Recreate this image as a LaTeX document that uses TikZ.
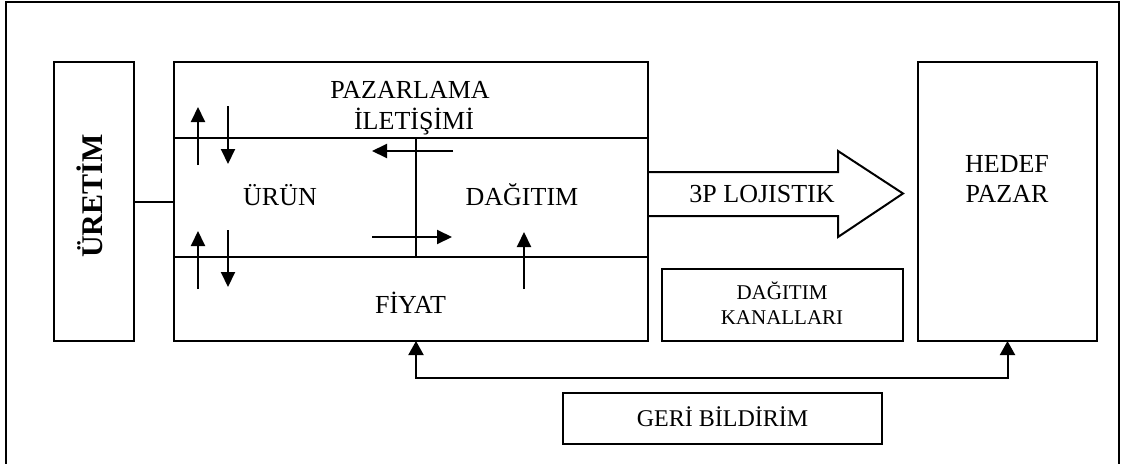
\documentclass[tikz,border=0pt]{standalone}
\usepackage{fontspec}
\setmainfont{Liberation Serif}
\usetikzlibrary{arrows.meta}
\begin{document}
\begin{tikzpicture}[x=1pt,y=-1pt,line width=2pt,
  box/.style={draw,line width=2pt,inner sep=0pt,outer sep=0pt},
  lbl/.style={font=\fontsize{26}{31.5}\selectfont,align=center,inner sep=0pt,anchor=base},
  smalllbl/.style={font=\fontsize{21}{25}\selectfont,align=center,inner sep=0pt,anchor=base},
  tip/.style={-{Triangle[length=15pt,width=14pt]}},
  bothtips/.style={{Triangle[length=14pt,width=15pt]}-{Triangle[length=14pt,width=15pt]}}]
\useasboundingbox (0,0) rectangle (1121,463);
% outer frame (open at the bottom edge of the page)
\draw (6,475) -- (6,2) -- (1119,2) -- (1119,475);

% main blocks
\node[box,minimum width=80pt,minimum height=279pt] (uretim) at (94,201.5) {};
\node[box,minimum width=474pt,minimum height=279pt] (mix) at (411,201.5) {};
\node[box,minimum width=179pt,minimum height=279pt] (hedef) at (1007.5,201.5) {};
\node[box,minimum width=241pt,minimum height=72pt] (kanal) at (782.5,305) {};
\node[box,minimum width=319pt,minimum height=51pt] (geri) at (722.5,418.5) {};

% labels
\node[rotate=90,anchor=base,inner sep=0pt,font=\fontsize{30}{30}\selectfont\bfseries] (uretimT) at (102.7,196) {ÜRETİM};
\node[lbl] (paz1) at (410,98) {PAZARLAMA};
\node[lbl] (paz2) at (414,129.5) {İLETİŞİMİ};
\node[lbl] (urun) at (280,205) {ÜRÜN};
\node[lbl] (dagitim) at (522,205.7) {DAĞITIM};
\node[lbl] (fiyat) at (410.5,313) {FİYAT};
\node[lbl] (lojT) at (762,202.7) {3P LOJISTIK};
\node[lbl] (hed1) at (1007,172.7) {HEDEF};
\node[lbl] (hed2) at (1007,202.7) {PAZAR};
\node[smalllbl] (kan1) at (782,299) {DAĞITIM};
\node[smalllbl] (kan2) at (782,324) {KANALLARI};
\node[font=\fontsize{24}{24}\selectfont,inner sep=0pt,anchor=base] (geriT) at (722.5,426) {GERİ BİLDİRİM};

% dividing lines inside the marketing mix block
\coordinate (d1) at (174,138);
\coordinate (d2) at (174,257);
\coordinate (v1) at (416,138);
\draw (d1) -- (d1 -| mix.east);
\draw (d2) -- (d2 -| mix.east);
\draw (v1) -- (v1 |- d2);

% link from production to the mix
\draw (uretim.east) -- (mix.west);

% small arrows inside the mix
\coordinate (a1s) at (198,165); \coordinate (a1e) at (198,107);
\coordinate (a2s) at (228,106); \coordinate (a2e) at (228,164);
\coordinate (a3s) at (198,289); \coordinate (a3e) at (198,231);
\coordinate (a4s) at (228,230); \coordinate (a4e) at (228,287);
\coordinate (a5s) at (453,151); \coordinate (a5e) at (372,151);
\coordinate (a6s) at (372,237); \coordinate (a6e) at (452,237);
\coordinate (a7s) at (524,289); \coordinate (a7e) at (524,232);
\foreach \a in {a1,a2,a3,a4,a5,a6,a7}
  \draw[tip] (\a s) -- (\a e);

% 3PL block arrow towards the target market
\draw[line join=miter] (mix.east |- 0,172) -- (838,172) -- (838,151) -- (903,193.5)
  -- (838,237) -- (838,216) -- (mix.east |- 0,216);

% feedback loop
\draw[bothtips] ([xshift=5pt]mix.south) -- ++(0,37) -| (hedef.south);
\end{tikzpicture}
\end{document}
